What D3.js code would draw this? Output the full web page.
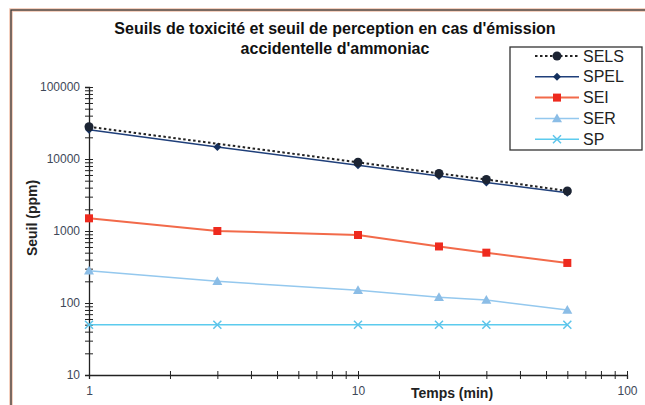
<!DOCTYPE html>
<html>
<head>
<meta charset="utf-8">
<script src="https://cdn.jsdelivr.net/npm/d3@7"></script>
<style>
body{margin:0;background:#fff}
svg{font-family:"Liberation Sans",Arial,sans-serif}
</style>
</head>
<body>
<script>
const w=645
const h=405

// data
const temps=[1,3,10,20,30,60]
const sels=[28000,null,9000,6300,5200,3600]
const spel=[25500,14700,8200,5800,4700,3400]
const sei=[1500,1000,880,610,500,360]
const ser=[280,200,150,120,110,80]
const sp=[50,50,50,50,50,50]
const noms=["SELS","SPEL","SEI","SER","SP"]

const x=d3.scaleLog()
    .domain([1,100])
    .range([89,627])

const y=d3.scaleLog()
    .domain([10,100000])
    .range([375,87])

const svg=d3.create("svg")
    .attr("width",w)
    .attr("height",h)

// outer frame
svg.append("rect")
    .attr("x",11).attr("y",10)
    .attr("width",800).attr("height",600)
    .attr("fill","none")
    .attr("stroke","#f2c2ac")
    .attr("stroke-width",3.5)
svg.append("rect")
    .attr("x",11).attr("y",10)
    .attr("width",800).attr("height",600)
    .attr("fill","none")
    .attr("stroke","#3a3a3a")
    .attr("stroke-width",1.3)

// title
svg.append("text")
    .attr("x",335).attr("y",34)
    .attr("text-anchor","middle")
    .attr("font-size",16).attr("font-weight","bold")
    .attr("fill","#111")
    .text("Seuils de toxicité et seuil de perception en cas d'émission")
svg.append("text")
    .attr("x",335).attr("y",54)
    .attr("text-anchor","middle")
    .attr("font-size",16).attr("font-weight","bold")
    .attr("fill","#111")
    .text("accidentelle d'ammoniac")

//axes
const yTicks=[]
for(let p=10;p<100000;p*=10){
    for(let k=1;k<10;k++) yTicks.push(p*k)
}
yTicks.push(100000)
const xTicks=[]
for(let p=1;p<100;p*=10){
    for(let k=1;k<10;k++) xTicks.push(p*k)
}
xTicks.push(100)
const decade=d=>Math.abs(Math.log10(d)-Math.round(Math.log10(d)))<1e-9

const gy=svg.append("g")
    .attr("transform","translate(89,0)")
    .call(d3.axisLeft(y).tickValues(yTicks).tickSize(4).tickPadding(5)
        .tickFormat(d=>decade(d)?d:""))
gy.selectAll(".tick line").attr("x1",4).attr("stroke","#222")
gy.select(".domain").attr("stroke","#222").attr("stroke-width",1.3)
gy.selectAll("text").attr("font-size",12).attr("fill","#3e4858")
    .attr("font-family","Liberation Sans,Arial,sans-serif")

const gx=svg.append("g")
    .attr("transform","translate(0,375)")
    .call(d3.axisBottom(x).tickValues(xTicks).tickSize(4).tickPadding(7)
        .tickFormat(d=>decade(d)?d:""))
gx.selectAll(".tick line").attr("y1",-4).attr("stroke","#222")
gx.select(".domain").attr("stroke","#222").attr("stroke-width",1.3)
gx.selectAll("text").attr("font-size",12).attr("fill","#3e4858")
    .attr("font-family","Liberation Sans,Arial,sans-serif")

svg.append("text")
    .attr("transform","translate(37,218) rotate(-90)")
    .attr("text-anchor","middle")
    .attr("font-size",14).attr("font-weight","bold")
    .attr("fill","#222")
    .text("Seuil (ppm)")
svg.append("text")
    .attr("x",452).attr("y",398)
    .attr("text-anchor","middle")
    .attr("font-size",14).attr("font-weight","bold")
    .attr("fill","#222")
    .text("Temps (min)")

// series
const series=[
    {nom:"SELS",vals:sels,color:"#222",width:2,dash:"2.5,2.5",mark:"circle",mcol:"#1c2433",size:4.5},
    {nom:"SPEL",vals:spel,color:"#1f3f7a",width:1.5,dash:null,mark:"diamond",mcol:"#14305e",size:4},
    {nom:"SEI",vals:sei,color:"#f26a4a",width:2,dash:null,mark:"square",mcol:"#ee2a1e",size:4},
    {nom:"SER",vals:ser,color:"#94c8ee",width:1.5,dash:null,mark:"triangle",mcol:"#8bbde6",size:5},
    {nom:"SP",vals:sp,color:"#5ccbee",width:1.5,dash:null,mark:"cross",mcol:"#5cc4ea",size:4}
]

const line=d3.line()
    .x(d=>x(d.t))
    .y(d=>y(d.v))

function marker(g,s,cx,cy){
    const r=s.size
    if(s.mark=="circle"){
        g.append("circle").attr("cx",cx).attr("cy",cy).attr("r",r).attr("fill",s.mcol)
    }
    else if(s.mark=="diamond"){
        g.append("path").attr("d",`M${cx},${cy-r}L${cx+r},${cy}L${cx},${cy+r}L${cx-r},${cy}Z`).attr("fill",s.mcol)
    }
    else if(s.mark=="square"){
        g.append("rect").attr("x",cx-r).attr("y",cy-r).attr("width",2*r).attr("height",2*r).attr("fill",s.mcol)
    }
    else if(s.mark=="triangle"){
        g.append("path").attr("d",`M${cx},${cy-r}L${cx+r},${cy+r*0.75}L${cx-r},${cy+r*0.75}Z`).attr("fill",s.mcol)
    }
    else{
        g.append("path").attr("d",`M${cx-r},${cy-r}L${cx+r},${cy+r}M${cx-r},${cy+r}L${cx+r},${cy-r}`)
            .attr("stroke",s.mcol).attr("stroke-width",1.5).attr("fill","none")
    }
}

series.slice().reverse().forEach(s=>{
    const pts=temps.map((t,i)=>({t:t,v:s.vals[i]})).filter(d=>d.v!=null)
    const g=svg.append("g")
    g.append("path")
        .attr("d",line(pts))
        .attr("fill","none")
        .attr("stroke",s.color)
        .attr("stroke-width",s.width)
        .attr("stroke-dasharray",s.dash)
    pts.forEach(d=>marker(g,s,x(d.t),y(d.v)))
})

// legend
svg.append("rect")
    .attr("x",510).attr("y",47)
    .attr("width",132).attr("height",103)
    .attr("fill","#fff")
    .attr("stroke","#333")
    .attr("stroke-width",1.3)
series.forEach((s,i)=>{
    const ly=56+i*20.8
    const g=svg.append("g")
    g.append("line")
        .attr("x1",535).attr("x2",579)
        .attr("y1",ly).attr("y2",ly)
        .attr("stroke",s.color)
        .attr("stroke-width",s.width)
        .attr("stroke-dasharray",s.dash)
    marker(g,s,557,ly)
    g.append("text")
        .attr("x",583).attr("y",ly+5.5)
        .attr("font-size",16)
        .attr("fill","#222")
        .text(s.nom)
})

d3.select("body")
    .append(()=>svg.node())
</script>
</body>
</html>
